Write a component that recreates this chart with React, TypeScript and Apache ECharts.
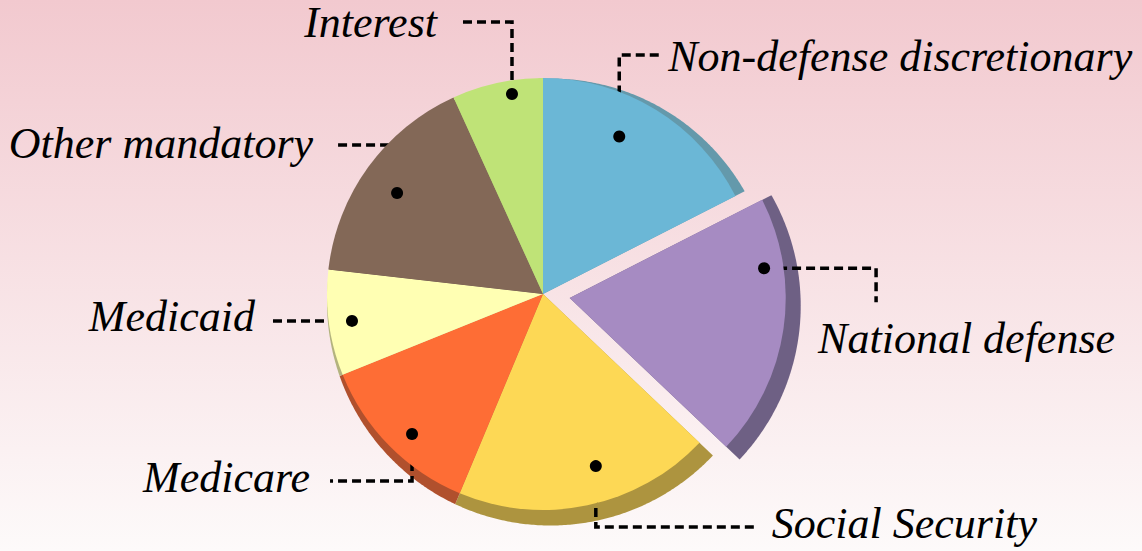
import { useEffect, useRef } from 'react';
import * as echarts from 'echarts';

// ---- data ----
const categories = [
  'Non-defense discretionary',
  'National defense',
  'Social Security',
  'Medicare',
  'Medicaid',
  'Other mandatory',
  'Interest',
];
const shares = [17.5, 19.6, 19.2, 12.6, 7.9, 16.4, 6.8];
const explodedName = 'National defense';

// ---- styles ----
const colors = ['#6bb7d6', '#a68bc2', '#fdd855', '#fe6d35', '#ffffb3', '#836857', '#bfe377'];
const shadowColors = ['#6499ab', '#6e6084', '#ad943f', '#b0502d', '#b3b37e', '#5c4a3e', '#86a054'];
const FONT = "'Liberation Serif', 'Times New Roman', Times, serif";

const CX = 543;
const CY = 294;
const R = 216;
const EXPLODE = 27;
// shadow rim: outer edge follows a circle shifted down-right
const SH_DX = 7.5;
const SH_DY = 8;
const SH_R = 223.5;

// callout layout: dot position inside the slice (fraction of its sweep, distance from centre),
// elbowed leader legs, and text offset from the leader's end
type Leg = ['v' | 'h', number];
const callouts: { frac: number; r: number; legs: Leg[]; text: [number, number]; align: string }[] = [
  { frac: 0.41, r: 175, legs: [['v', -81.5], ['h', 41]], text: [8, 2], align: 'left' },
  { frac: 0.26, r: 196.6, legs: [['h', 112], ['v', 34]], text: [-58, 36], align: 'left' },
  { frac: 0.425, r: 180, legs: [['v', 61], ['h', 161]], text: [15, -4], align: 'left' },
  { frac: 0.45, r: 191.7, legs: [['v', 47], ['h', -82]], text: [-20, -3], align: 'right' },
  { frac: 0.49, r: 192.9, legs: [['h', -40], ['h', -40]], text: [-17, -4], align: 'right' },
  { frac: 0.478, r: 177.5, legs: [['v', -48], ['h', -64]], text: [-20, -1], align: 'right' },
  { frac: 0.64, r: 202.4, legs: [['v', -72], ['h', -54]], text: [-21, 1], align: 'right' },
];

const total = shares.reduce((a, b) => a + b, 0);
const startAngles: number[] = [];
{
  let acc = 0;
  shares.forEach((v) => {
    startAngles.push((acc / total) * 360);
    acc += v;
  });
}
const rad = (d: number) => (d * Math.PI) / 180;

function explodeOffset(i: number) {
  if (categories[i] !== explodedName) return [0, 0];
  const sweep = (shares[i] / total) * 360;
  const mid = rad(startAngles[i] + sweep / 2);
  return [EXPLODE * Math.sin(mid), -EXPLODE * Math.cos(mid)];
}
const explodedIdx = categories.indexOf(explodedName);
const explodedShift = explodeOffset(explodedIdx);

function sliceCenter(i: number) {
  const [ox, oy] = explodeOffset(i);
  return [CX + ox, CY + oy];
}

function calloutGeometry(i: number) {
  const sweep = (shares[i] / total) * 360;
  const [cx, cy] = sliceCenter(i);
  const c = callouts[i];
  const a = rad(startAngles[i] + c.frac * sweep);
  const p0 = [cx + c.r * Math.sin(a), cy - c.r * Math.cos(a)];
  const pts = [p0];
  let cur = p0;
  c.legs.forEach(([dir, len]) => {
    cur = dir === 'v' ? [cur[0], cur[1] + len] : [cur[0] + len, cur[1]];
    pts.push(cur);
  });
  const end = pts[pts.length - 1];
  return { pts, label: [end[0] + c.text[0], end[1] + c.text[1]], align: c.align };
}

const labelStyle = {
  show: true,
  position: 'outside',
  formatter: '{b}',
  fontFamily: FONT,
  fontStyle: 'italic',
  fontSize: 44,
  color: '#000',
};
const labelLineStyle = {
  show: true,
  lineStyle: { color: '#000', width: 3.5, type: [9, 5] },
};
const layoutFn = (params: any) => {
  const g = calloutGeometry(params.dataIndex);
  return {
    x: g.label[0],
    y: g.label[1],
    align: g.align,
    verticalAlign: 'middle',
    labelLinePoints: g.pts,
  };
};

// one pie for the slices in place, one (shifted) for the pulled-out slice
function pieData(showExploded: boolean) {
  return categories.map((name, i) => {
    const visible = (name === explodedName) === showExploded;
    return visible
      ? { name, value: shares[i], itemStyle: { color: colors[i] } }
      : {
          name,
          value: shares[i],
          itemStyle: { color: 'rgba(0,0,0,0)', borderWidth: 0 },
          label: { show: false },
          labelLine: { show: false },
        };
  });
}

export default function App() {
  const ref = useRef<HTMLDivElement>(null);
  useEffect(() => {
    document.body.style.margin = '0';
    const chart = echarts.init(ref.current!, null, { renderer: 'svg' });
    const dots = categories.map((_, i) => {
      const g = calloutGeometry(i);
      return {
        type: 'circle',
        shape: { cx: g.pts[0][0], cy: g.pts[0][1], r: 6 },
        style: { fill: '#000' },
        z: 100,
        silent: true,
      };
    });
    const pieBase = {
      type: 'pie',
      silent: true,
      z: 2,
      radius: R,
      startAngle: 90,
      clockwise: true,
      selectedMode: false,
      avoidLabelOverlap: false,
      emphasis: { disabled: true },
      itemStyle: { borderWidth: 0 },
      label: labelStyle,
      labelLine: labelLineStyle,
      labelLayout: layoutFn,
    };
    chart.setOption({
      animation: false,
      textStyle: { fontFamily: FONT },
      backgroundColor: new echarts.graphic.LinearGradient(0, 0, 0, 1, [
        { offset: 0, color: '#f2c9cf' },
        { offset: 1, color: '#fdfafa' },
      ]),
      graphic: dots,
      series: [
        {
          type: 'custom',
          coordinateSystem: 'none',
          silent: true,
          z: 1,
          data: shares.map((v) => [v]),
          renderItem: (params: any, api: any) => {
            const i = params.dataIndex;
            const sweep = (api.value(0) / total) * 360;
            const [cx, cy] = sliceCenter(i);
            const dx = SH_DX;
            const dy = SH_DY;
            const pts: number[][] = [[cx, cy]];
            const n = Math.max(2, Math.ceil(sweep * 2));
            for (let k = 0; k <= n; k++) {
              const th = rad(startAngles[i] + (sweep * k) / n);
              const ux = Math.sin(th);
              const uy = -Math.cos(th);
              const ud = ux * dx + uy * dy;
              const t = ud + Math.sqrt(ud * ud - (dx * dx + dy * dy) + SH_R * SH_R);
              pts.push([cx + t * ux, cy + t * uy]);
            }
            return {
              type: 'polygon',
              shape: { points: pts },
              style: { fill: shadowColors[i] },
            };
          },
        },
        { ...pieBase, name: 'in place', center: [CX, CY], data: pieData(false) },
        {
          ...pieBase,
          name: 'pulled out',
          center: [CX + explodedShift[0], CY + explodedShift[1]],
          data: pieData(true),
        },
      ],
    });
    return () => chart.dispose();
  }, []);
  return <div ref={ref} style={{ width: 1142, height: 551 }} />;
}
